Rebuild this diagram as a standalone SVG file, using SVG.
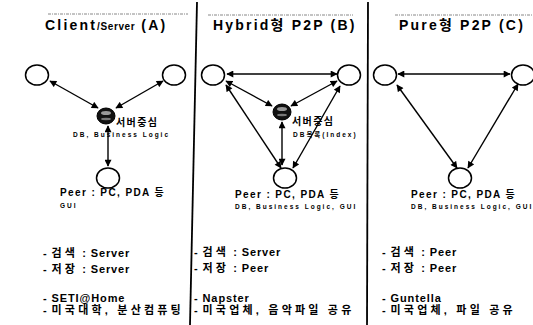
<svg xmlns="http://www.w3.org/2000/svg" width="533" height="325" viewBox="0 0 533 325">
<style>
.title{font-family:"Liberation Sans","Noto Sans CJK KR",sans-serif;font-weight:bold;font-size:14px;letter-spacing:2.2px;fill:#000}
.sub{font-size:10px;letter-spacing:0.6px}
.lbl{font-family:"Liberation Sans","Noto Sans CJK KR",sans-serif;font-weight:bold;font-size:10px;letter-spacing:1.4px;fill:#000}
.small{font-family:"Liberation Sans","Noto Sans CJK KR",sans-serif;font-weight:bold;font-size:6.5px;letter-spacing:2px;fill:#000}
.txt{font-family:"Liberation Sans","Noto Sans CJK KR",sans-serif;font-weight:bold;font-size:11px;letter-spacing:0.9px;fill:#000}
.ko{letter-spacing:3.2px}
.node{fill:#fff;stroke:#000;stroke-width:1.5}
.srv{fill:#111;stroke:#000;stroke-width:1}
.edge{stroke:#000;stroke-width:1.4;fill:none;marker-start:url(#ah);marker-end:url(#ah)}
.div{stroke:#000;stroke-width:1.8}
.dash{stroke:#888;stroke-width:1;stroke-dasharray:3 1 1 1}
</style>
<defs>
<marker id="ah" viewBox="0 0 10 10" refX="9" refY="5" markerWidth="8" markerHeight="7" markerUnits="userSpaceOnUse" orient="auto-start-reverse">
<path d="M0,0 L10,5 L0,10 z" fill="#000"/>
</marker>
</defs>
<rect width="533" height="325" fill="#fff"/>

<g id="dividers">
<line class="div" x1="197" y1="2" x2="190" y2="325"/>
<line class="div" x1="368" y1="2" x2="367" y2="325"/>
<line class="dash" x1="48" y1="14" x2="188" y2="14"/>
<line class="dash" x1="208" y1="15" x2="353" y2="15"/>
<line class="dash" x1="395" y1="15" x2="533" y2="15"/>
</g>

<g id="titles">
<text class="title" x="45" y="30">Client<tspan class="sub">/Server</tspan> (A)</text>
<text class="title" x="213" y="30">Hybrid형 P2P (B)</text>
<text class="title" x="399" y="30">Pure형 P2P (C)</text>
</g>

<g id="connectors">
<line class="edge" x1="50" y1="81" x2="98" y2="108"/>
<line class="edge" x1="163" y1="81" x2="116" y2="108"/>
<line class="edge" x1="108" y1="126" x2="108" y2="166"/>
<line class="edge" x1="227" y1="74" x2="337" y2="74"/>
<line class="edge" x1="226" y1="81" x2="272" y2="106"/>
<line class="edge" x1="337" y1="81" x2="291" y2="106"/>
<line class="edge" x1="226" y1="85" x2="281" y2="168"/>
<line class="edge" x1="340" y1="86" x2="293" y2="168"/>
<line class="edge" x1="282" y1="122" x2="282" y2="165"/>
<line class="edge" x1="398" y1="74" x2="510" y2="74"/>
<line class="edge" x1="397" y1="85" x2="457" y2="168"/>
<line class="edge" x1="518" y1="84" x2="468" y2="168"/>
</g>

<g id="A-left"><ellipse class="node" cx="37" cy="75" rx="11.5" ry="10"/></g>
<g id="A-right"><ellipse class="node" cx="174" cy="75" rx="11.5" ry="10"/></g>
<g id="A-server">
<ellipse class="srv" cx="106" cy="116" rx="9" ry="8"/>
<ellipse cx="106" cy="113" rx="5" ry="2" fill="#999"/>
<ellipse cx="106" cy="119" rx="5" ry="1.2" fill="#777"/>
<text class="lbl" x="116" y="126">서버중심</text>
<text class="small" x="73" y="137">DB, Business Logic</text>
</g>
<g id="A-peer">
<ellipse class="node" cx="108" cy="178" rx="11.5" ry="10"/>
<text class="lbl" x="60" y="196">Peer : PC, PDA 등</text>
<text class="small" x="60" y="208">GUI</text>
</g>

<g id="B-left"><ellipse class="node" cx="213" cy="75" rx="11.5" ry="10"/></g>
<g id="B-right"><ellipse class="node" cx="349" cy="75" rx="11.5" ry="10"/></g>
<g id="B-server">
<ellipse class="srv" cx="282" cy="112" rx="9" ry="8"/>
<ellipse cx="282" cy="109" rx="5" ry="2" fill="#999"/>
<ellipse cx="282" cy="115" rx="5" ry="1.2" fill="#777"/>
<text class="lbl" x="292" y="125">서버중심</text>
<text class="small" x="293" y="137">DB목록(Index)</text>
</g>
<g id="B-peer">
<ellipse class="node" cx="285" cy="178" rx="11.5" ry="10"/>
<text class="lbl" x="235" y="198">Peer : PC, PDA 등</text>
<text class="small" x="235" y="209">DB, Business Logic, GUI</text>
</g>

<g id="C-left"><ellipse class="node" cx="385" cy="75" rx="11.5" ry="10"/></g>
<g id="C-right"><ellipse class="node" cx="523" cy="75" rx="11.5" ry="10"/></g>
<g id="C-peer">
<ellipse class="node" cx="460" cy="178" rx="11.5" ry="10"/>
<text class="lbl" x="411" y="198">Peer : PC, PDA 등</text>
<text class="small" x="411" y="209">DB, Business Logic, GUI</text>
</g>

<g id="A-notes">
<text class="txt" x="43" y="257">- <tspan class="ko">검색</tspan> : Server</text>
<text class="txt" x="43" y="273">- <tspan class="ko">저장</tspan> : Server</text>
<text class="txt" x="43" y="302">- SETI@Home</text>
<text class="txt" x="43" y="314">- <tspan class="ko">미국대학, 분산컴퓨팅</tspan></text>
</g>
<g id="B-notes">
<text class="txt" x="194" y="256">- <tspan class="ko">검색</tspan> : Server</text>
<text class="txt" x="194" y="272">- <tspan class="ko">저장</tspan> : Peer</text>
<text class="txt" x="194" y="302">- Napster</text>
<text class="txt" x="194" y="314">- <tspan class="ko">미국업체, 음악파일 공유</tspan></text>
</g>
<g id="C-notes">
<text class="txt" x="382" y="256">- <tspan class="ko">검색</tspan> : Peer</text>
<text class="txt" x="382" y="272">- <tspan class="ko">저장</tspan> : Peer</text>
<text class="txt" x="382" y="302">- Guntella</text>
<text class="txt" x="382" y="314">- <tspan class="ko">미국업체, 파일 공유</tspan></text>
</g>
</svg>
